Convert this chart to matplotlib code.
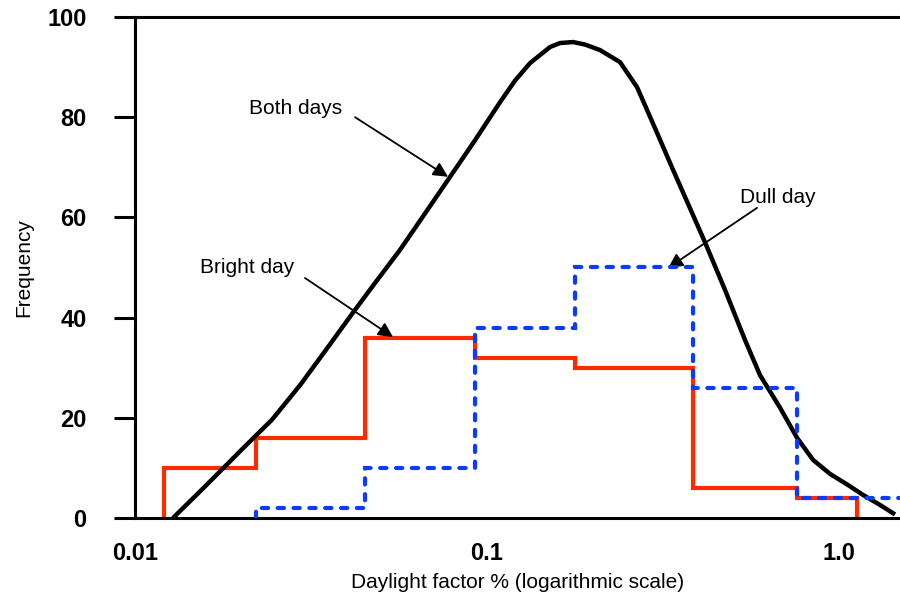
import matplotlib
matplotlib.use("Agg")
import matplotlib.pyplot as plt
from matplotlib.ticker import NullLocator

plt.rcParams['font.family'] = ['Liberation Sans', 'DejaVu Sans']

# bin edges (daylight factor %) and frequencies for each day
bright_edges = [0.0121, 0.0221, 0.045, 0.0925, 0.178, 0.385, 0.760, 1.125]
bright_freq = [10, 16, 36, 32, 30, 6, 4]

dull_edges = [0.0221, 0.045, 0.0925, 0.178, 0.385, 0.760, 1.6]
dull_freq = [2, 10, 38, 50, 26, 4]

# smoothed distribution for both days together
both_x = [0.01282, 0.01530, 0.01826, 0.02026, 0.02449, 0.02943, 0.03466,
          0.04162, 0.04806, 0.05659, 0.06668, 0.0775, 0.09246, 0.1089,
          0.1201, 0.1325, 0.1510, 0.1612, 0.1755, 0.1898, 0.2094, 0.2386,
          0.2668, 0.2867, 0.3101, 0.3376, 0.3774, 0.4163, 0.4745, 0.5408,
          0.5965, 0.6800, 0.7598, 0.8436, 0.9428, 1.054, 1.170, 1.3079,
          1.4425]
both_y = [0, 5.3, 10.7, 13.9, 19.6, 26.5, 33.3,
          41, 46.9, 53.5, 60.8, 67.5, 75.4, 83,
          87.3, 90.8, 94, 94.8, 95, 94.5, 93.4, 91,
          86, 81, 75.5, 69.5, 61.8, 55, 45.5, 35.5,
          28.5, 22, 16, 11.6, 8.8, 6.7, 4.6, 2.6,
          0.7]

x_ticks = [0.01, 0.1, 1.0]
x_tick_labels = ['0.01', '0.1', '1.0']
y_ticks = [0, 20, 40, 60, 80, 100]

fig = plt.figure(figsize=(9, 5.96), dpi=100)
ax = fig.add_axes([0.15, 0.1309, 0.85, 0.8406])

ax.plot(both_x, both_y, color='black', lw=3.2, solid_capstyle='butt',
        solid_joinstyle='round', zorder=3)
ax.stairs(bright_freq, bright_edges, baseline=0, color='#ff2a00', lw=3,
          zorder=2)
blue = ax.stairs(dull_freq, dull_edges, baseline=0, color='#0a3cff', lw=3,
                 zorder=4)
blue.set_linestyle((0, (1.5, 2.3)))
blue.set_capstyle('round')

ax.set_xscale('log')
ax.set_xlim(0.01, 1.49)
ax.set_ylim(0, 100)
ax.xaxis.set_minor_locator(NullLocator())
ax.set_xticks(x_ticks)
ax.set_xticklabels(x_tick_labels)
ax.set_yticks(y_ticks)

ax.tick_params(axis='y', length=15, width=2.2, direction='out', pad=20,
               labelsize=17)
ax.tick_params(axis='x', length=0, pad=17, labelsize=17)
for lab in ax.get_xticklabels() + ax.get_yticklabels():
    lab.set_fontweight('bold')

ax.spines['right'].set_visible(False)
for side in ['left', 'bottom', 'top']:
    ax.spines[side].set_linewidth(2.2)

ax.set_xlabel('Daylight factor % (logarithmic scale)', fontsize=15,
              labelpad=6)
ax.set_ylabel('Frequency', fontsize=15, labelpad=10)

# labels with pointer arrows
notes = [
    ('Both days', (0.02867, 81.8), (0.04217, 80.0), (0.0775, 68.1)),
    ('Bright day', (0.0208, 49.9), (0.0304, 47.9), (0.0541, 36.1)),
    ('Dull day', (0.671, 63.9), (0.5848, 61.9), (0.3268, 49.9)),
]
for text, pos, tail, head in notes:
    ax.text(pos[0], pos[1], text, fontsize=15, ha='center', va='center')
    ax.annotate('', xy=head, xytext=tail,
                arrowprops=dict(arrowstyle='-|>', lw=1.3, color='black',
                                mutation_scale=22, shrinkA=0, shrinkB=0))

fig.savefig('out.png', dpi=100)
